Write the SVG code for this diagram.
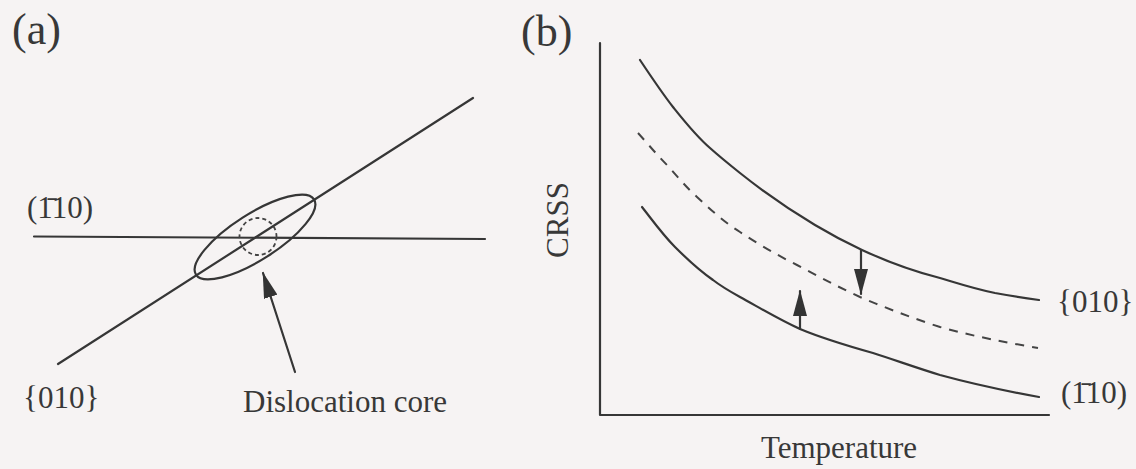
<svg xmlns="http://www.w3.org/2000/svg" width="1136" height="469" viewBox="0 0 1136 469">
<style>
.bg{fill:#f6f3f3}
.ln{fill:none;stroke:#363636;stroke-width:2.2;stroke-linecap:round;stroke-linejoin:round}
.dash{fill:none;stroke:#444;stroke-width:2;stroke-dasharray:9 8}
.dot{fill:none;stroke:#444;stroke-width:1.8;stroke-dasharray:4 3}
.t{font-family:"Liberation Serif","Times New Roman",serif;font-size:31px;fill:#383838}
.big{font-size:44px}
</style>
<defs>
<marker id="ah" markerUnits="userSpaceOnUse" markerWidth="26" markerHeight="14" refX="25" refY="7" orient="auto">
<path d="M0,0 L26,7 L0,14 Z" fill="#333"/>
</marker>
</defs>
<rect class="bg" x="0" y="0" width="1136" height="469"/>

<g id="panel-a">
<text class="t big" x="12" y="44">(a)</text>
<g id="plane-010">
<line class="ln" x1="58" y1="364" x2="473" y2="98"/>
<text class="t" x="23" y="408">{010}</text>
</g>
<g id="plane-110">
<line class="ln" x1="34" y1="236.5" x2="485" y2="239"/>
<text class="t" x="27" y="218">(1̄10)</text>
</g>
<g id="core-ellipse">
<ellipse class="ln" cx="255" cy="237" rx="70" ry="23" transform="rotate(-32.5 255 237)"/>
<circle class="dot" cx="258" cy="236.5" r="18.5"/>
</g>
<g id="label-core">
<text class="t" x="243" y="412">Dislocation core</text>
</g>
</g>

<g id="panel-b">
<text class="t big" x="521" y="46">(b)</text>
<g id="axes">
<polyline class="ln" points="600,43 600,415 1049,415"/>
<text class="t" transform="translate(568,220) rotate(-90)" text-anchor="middle">CRSS</text>
<text class="t" x="839" y="458" text-anchor="middle">Temperature</text>
</g>
<g id="curve-010">
<path class="ln" d="M640,60 C652,78 662,93 673,107 C685,122 696,136 710,148 C720,157 730,165 740,173 C760,189 790,210 815,225 C830,234 845,242 862,250 C888,262 912,271 940,278 C960,284 975,289 995,293 C1012,296 1025,298 1039,300"/>
<text class="t" x="1057" y="312">{010}</text>
</g>
<g id="curve-mid">
<path class="dash" d="M638,133 C648,144 657,155 667,165 C677,176 686,187 697,197 C711,210 724,222 740,232 C758,244 777,255 797,265 C818,276 838,287 860,297 C886,308 912,318 940,327 C972,336 1004,342 1038,348"/>
</g>
<g id="curve-110">
<path class="ln" d="M642,207 C653,221 663,235 675,247 C687,259 700,271 713,280 C722,287 731,292 740,297 C760,308 780,320 800,329 C824,339 848,346 873,353 C895,360 917,368 940,375 C973,384 1006,391 1039,397"/>
<text class="t" x="1061" y="403">(1̄10)</text>
</g>
</g>

<g id="connectors">
<line class="ln" x1="295" y1="372" x2="263" y2="273" marker-end="url(#ah)"/>
<line class="ln" x1="861" y1="250" x2="861" y2="294" marker-end="url(#ah)"/>
<line class="ln" x1="800" y1="329" x2="800" y2="291" marker-end="url(#ah)"/>
</g>
</svg>
